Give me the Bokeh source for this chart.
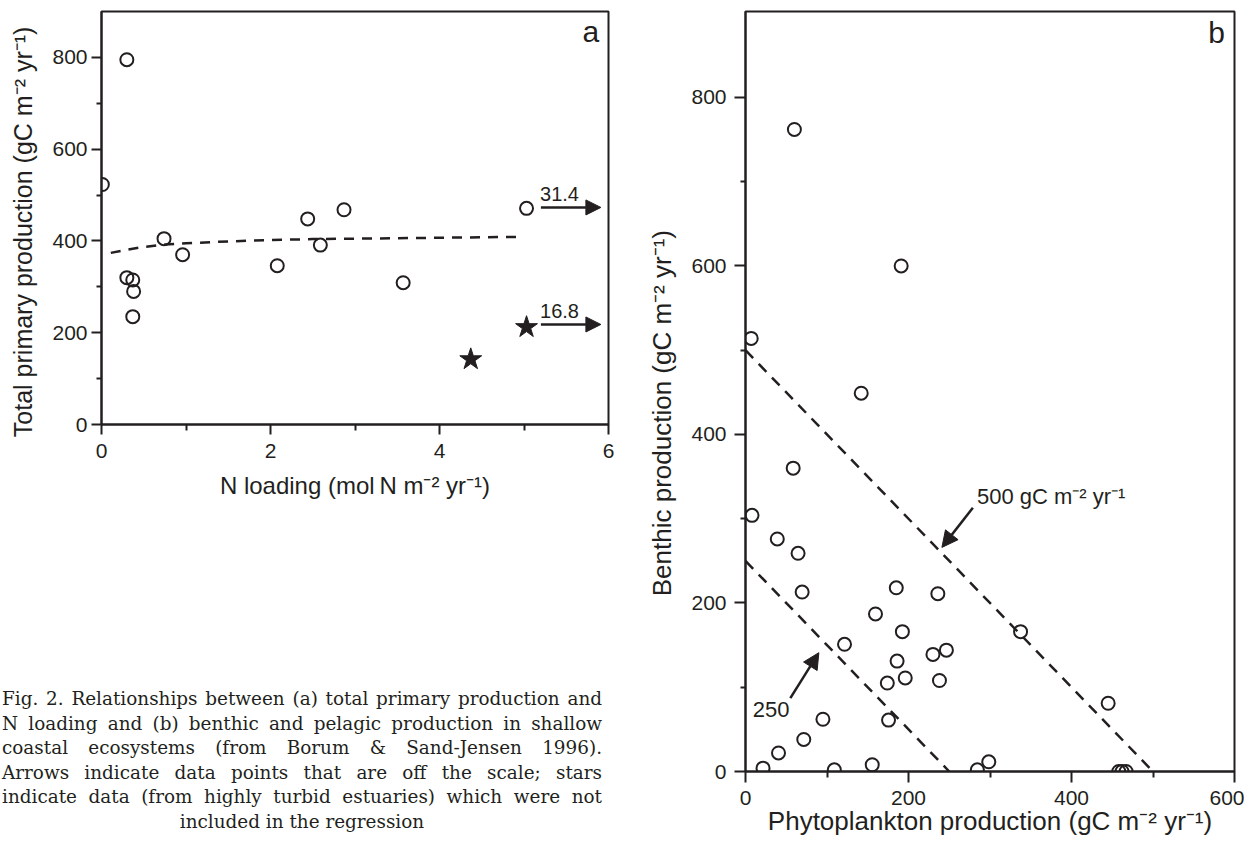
from bokeh.plotting import figure
from bokeh.models import FixedTicker, Arrow, NormalHead, Label, Div
from bokeh.layouts import row, column
from bokeh.embed import file_html
from bokeh.resources import INLINE

INK = "#231f20"
SANS = "Liberation Sans"

# ---------------- Panel a data ----------------
a_circle_x = [0.01, 0.30, 0.30, 0.37, 0.38, 0.37, 0.74, 0.96, 2.08, 2.44, 2.59, 2.87, 3.57, 5.03]
a_circle_y = [523, 795, 320, 315, 290, 235, 405, 370, 346, 448, 391, 468, 309, 471]
a_star_x = [4.37, 5.03]
a_star_y = [142, 212]
a_fit_x = [0.11, 0.30, 0.50, 0.75, 1.0, 1.5, 2.0, 2.5, 3.0, 3.5, 4.0, 4.5, 5.0]
a_fit_y = [374, 381, 387, 392, 395, 399, 402, 404, 405, 406, 407, 408, 409]
a_off_labels = ["31.4", "16.8"]
a_off_y = [473, 218]
a_x_ticks = [0, 2, 4, 6]
a_x_minor = [1, 3, 5]
a_y_ticks = [0, 200, 400, 600, 800]
a_y_minor = [100, 300, 500, 700]

# ---------------- Panel b data ----------------
b_x = [60, 191, 7, 142, 58.5, 8, 39, 64.5, 69.5, 185, 236, 159.5, 192.5, 121.5,
       230, 246.5, 186, 196, 174, 238, 175.5, 95, 71.5, 40.5, 21.5, 109, 155.5,
       337.5, 445, 298.5, 284.5, 458, 462, 467]
b_y = [762, 600, 514, 449, 360, 304, 276, 259, 213, 218, 211, 187, 166, 151,
       139, 144, 131, 111, 105, 108, 61, 62, 38, 22, 4, 2, 8,
       166, 81, 11.5, 2, 0, 0, 0]
b_totals = [500, 250]
b_x_ticks = [0, 200, 400, 600]
b_x_minor = [100, 300, 500]
b_y_ticks = [0, 200, 400, 600, 800]
b_y_minor = [100, 300, 500, 700]

caption_lines = [
    "Fig. 2. Relationships between (a) total primary production and",
    "N loading and (b) benthic and pelagic production in shallow",
    "coastal ecosystems (from Borum &amp; Sand-Jensen 1996).",
    "Arrows indicate data points that are off the scale; stars",
    "indicate data (from highly turbid estuaries) which were not",
    "included in the regression",
]

UNITS = "(gC m\u207b\u00b2 yr\u207b\u00b9)"
NBSP = "\u00a0"


def style(p, tick_out, xs, ys):
    p.grid.visible = False
    p.outline_line_color = INK
    p.outline_line_width = 2
    p.outline_line_alpha = 1
    for ax in p.axis:
        ax.axis_line_color = INK
        ax.axis_line_width = 2
        ax.major_tick_line_color = INK
        ax.major_tick_line_width = 2
        ax.major_tick_out = tick_out
        ax.major_tick_in = 0
        ax.minor_tick_line_color = INK
        ax.minor_tick_line_width = 2
        ax.minor_tick_out = 6
        ax.minor_tick_in = 0
        ax.major_label_text_font = SANS
        ax.major_label_text_font_size = "21px"
        ax.major_label_text_color = INK
        ax.axis_label_text_font = SANS
        ax.axis_label_text_font_size = "26px"
        ax.axis_label_text_font_style = "normal"
        ax.axis_label_text_color = INK
    p.xaxis.major_label_standoff = xs
    p.yaxis.major_label_standoff = ys
    p.yaxis.minor_tick_out = 5


# ---------------- Panel a ----------------
pa = figure(width=640, height=505, x_range=(0, 6), y_range=(0, 900),
            output_backend="svg", toolbar_location=None,
            min_border_left=101, min_border_right=32, min_border_top=11, min_border_bottom=81,
            background_fill_color="white", border_fill_color="white")
pa.xaxis.ticker = FixedTicker(ticks=a_x_ticks, minor_ticks=a_x_minor)
pa.yaxis.ticker = FixedTicker(ticks=a_y_ticks, minor_ticks=a_y_minor)
style(pa, 10, 9, 4)
pa.xaxis.axis_label = "N loading (mol\u2009N m\u207b\u00b2 yr\u207b\u00b9)"
pa.xaxis.axis_label_text_font_size = "24px"
pa.xaxis.axis_label_standoff = 11
pa.yaxis.axis_label = "Total primary production " + UNITS + NBSP * 4
pa.yaxis.axis_label_text_font_size = "25px"
pa.yaxis.axis_label_standoff = 12

pa.line(a_fit_x, a_fit_y, line_color=INK, line_width=2.5, line_dash="10 8")
pa.scatter(a_circle_x, a_circle_y, marker="circle", size=13, fill_alpha=0,
           line_color=INK, line_width=2)
pa.scatter(a_star_x, a_star_y, marker="star", size=23, fill_color=INK,
           line_color=INK, line_width=1)
for lab, yv in zip(a_off_labels, a_off_y):
    pa.add_layout(Arrow(end=NormalHead(size=15, fill_color=INK, line_color=INK, line_width=1),
                        x_start=5.2, y_start=yv, x_end=5.91, y_end=yv,
                        line_color=INK, line_width=2.5))
    pa.add_layout(Label(x=5.42, y=yv + 30, text=lab, text_align="center",
                        text_baseline="alphabetic", text_font=SANS,
                        text_font_size="20px", text_color=INK))
pa.add_layout(Label(x=5.79, y=857, text="a", text_align="center",
                    text_baseline="alphabetic", text_font=SANS,
                    text_font_size="30px", text_color=INK))

# ---------------- Caption ----------------
inner = "".join(
    '<div style="text-align:justify;text-align-last:justify;">%s</div>' % l
    for l in caption_lines[:-1]
) + '<div style="text-align:center;">%s</div>' % caption_lines[-1]
html = ('<div style="font-family:\'DejaVu Serif\',serif;font-size:18.4px;line-height:24.5px;'
        'color:#231f20;margin-left:2px;width:600px;padding-top:182px;">' + inner + '</div>')
cap = Div(text=html, width=640, height=336, margin=(0, 0, 0, 0))

# ---------------- Panel b ----------------
pb = figure(width=604, height=841, x_range=(0, 600), y_range=(0, 902),
            output_backend="svg", toolbar_location=None,
            min_border_left=105, min_border_right=10, min_border_top=11, min_border_bottom=70,
            background_fill_color="white", border_fill_color="white")
pb.xaxis.ticker = FixedTicker(ticks=b_x_ticks, minor_ticks=b_x_minor)
pb.yaxis.ticker = FixedTicker(ticks=b_y_ticks, minor_ticks=b_y_minor)
style(pb, 11, 8, 8)
pb.xaxis.axis_label = "Phytoplankton production " + UNITS
pb.xaxis.axis_label_standoff = -2
pb.yaxis.axis_label = "Benthic production " + UNITS + NBSP * 6
pb.yaxis.axis_label_standoff = 11

for t in b_totals:
    pb.line([0, t], [t, 0], line_color=INK, line_width=2.5, line_dash="11 8")
pb.scatter(b_x, b_y, marker="circle", size=13, fill_alpha=0,
           line_color=INK, line_width=2)

pb.add_layout(Arrow(end=NormalHead(size=16, fill_color=INK, line_color=INK, line_width=1),
                    x_start=279, y_start=313, x_end=241, y_end=266,
                    line_color=INK, line_width=2.5))
pb.add_layout(Label(x=284, y=326, text="500 gC m\u207b\u00b2 yr\u207b\u00b9", text_align="left",
                    text_baseline="alphabetic", text_font=SANS,
                    text_font_size="22px", text_color=INK))
pb.add_layout(Arrow(end=NormalHead(size=16, fill_color=INK, line_color=INK, line_width=1),
                    x_start=55, y_start=87, x_end=90, y_end=141,
                    line_color=INK, line_width=2.5))
pb.add_layout(Label(x=31.5, y=73, text="250", text_align="center",
                    text_baseline="alphabetic", text_font=SANS,
                    text_font_size="22px", text_color=INK))
pb.add_layout(Label(x=578, y=877, text="b", text_align="center",
                    text_baseline="alphabetic", text_font=SANS,
                    text_font_size="30px", text_color=INK))

layout = row(column(pa, cap), pb)
open("out.html", "w").write(file_html(layout, INLINE))
